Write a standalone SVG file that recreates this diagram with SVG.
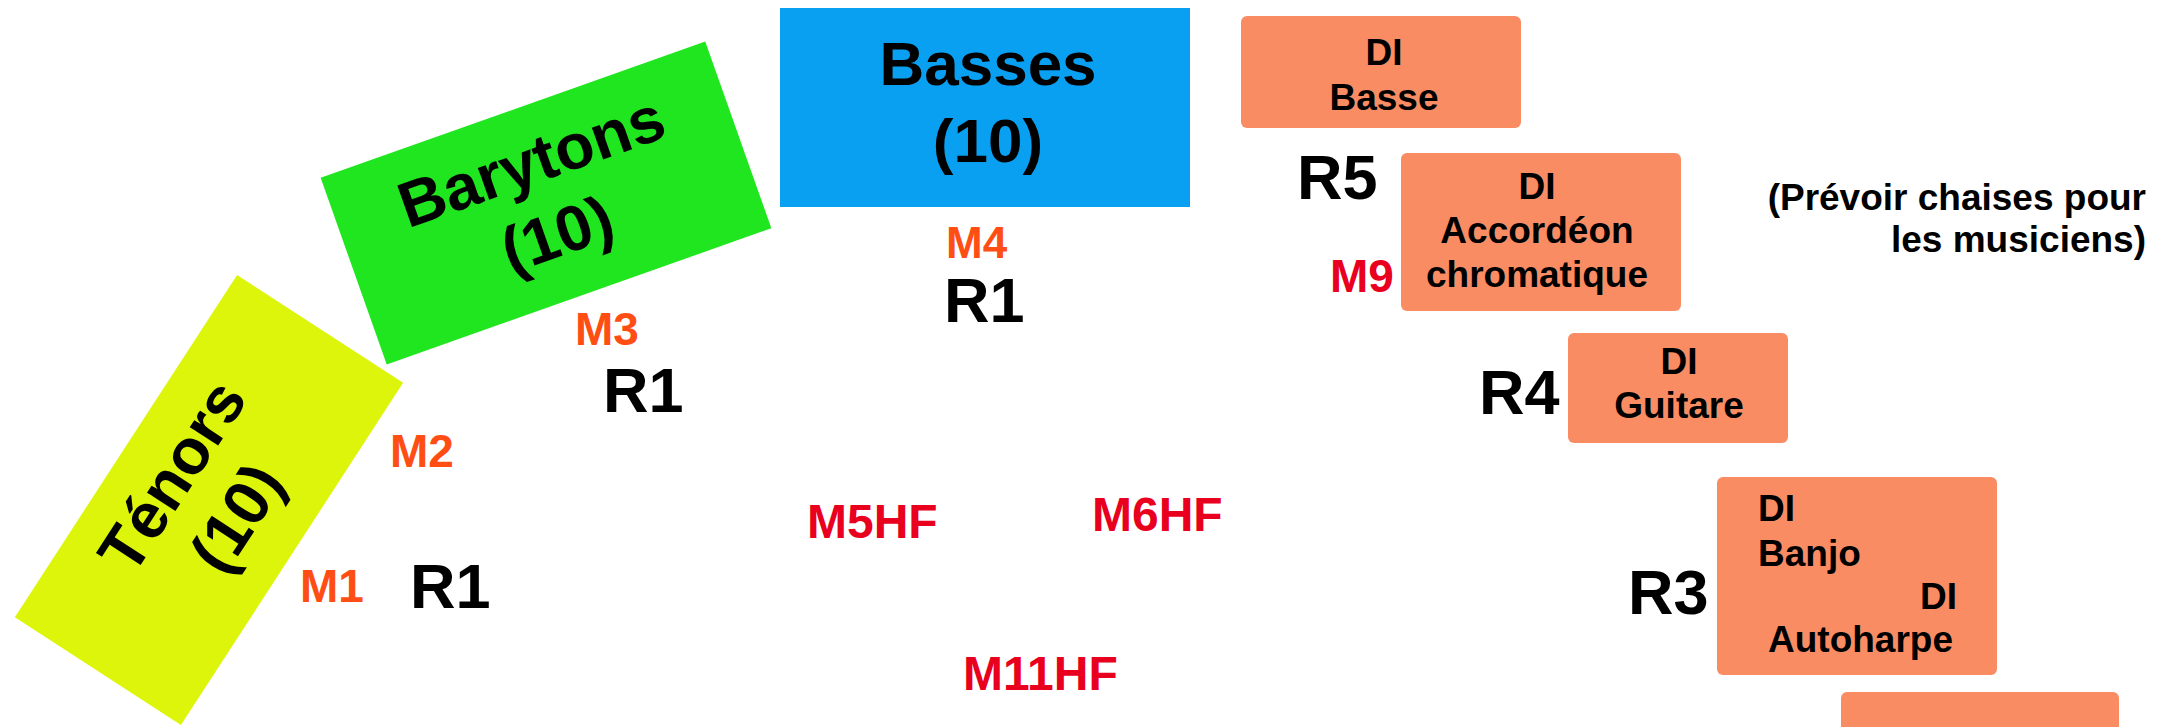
<svg xmlns="http://www.w3.org/2000/svg" width="2157" height="727" viewBox="0 0 2157 727">
<style>
text{font-family:"Liberation Sans",Arial,sans-serif;font-weight:bold}
.big{font-size:64px;fill:#000;text-anchor:middle}
.r{font-size:63px;fill:#000}
.mo{font-size:46px;fill:#FF4E14}
.mr{font-size:48px;fill:#E8001E}
.box{fill:#FA8C64}
.bt{font-size:37px;fill:#000}
.c{text-anchor:middle}
</style>
<rect width="2157" height="727" fill="#fff"/>
<g id="tenors" transform="translate(209,500) rotate(-57)">
<rect x="-204" y="-99" width="408" height="198" fill="#DCF50A"/>
<text class="big" x="0" y="-22">Ténors</text>
<text class="big" x="0" y="55">(10)</text>
</g>
<g id="barytons" transform="translate(546,203) rotate(-19.5)">
<rect x="-204" y="-99" width="408" height="198" fill="#20E620"/>
<text class="big" x="0" y="-22">Barytons</text>
<text class="big" x="0" y="55">(10)</text>
</g>
<g id="basses">
<rect x="780" y="8" width="410" height="199" fill="#0AA0F2"/>
<text class="big" x="988" y="85" style="font-size:62px">Basses</text>
<text class="big" x="988" y="162" style="font-size:62px">(10)</text>
</g>
<g id="di-basse">
<rect class="box" x="1241" y="16" width="280" height="112" rx="6"/>
<text class="bt c" x="1384" y="65">DI</text>
<text class="bt c" x="1384" y="110">Basse</text>
</g>
<g id="di-accordeon">
<rect class="box" x="1401" y="153" width="280" height="158" rx="6"/>
<text class="bt c" x="1537" y="199">DI</text>
<text class="bt c" x="1537" y="243">Accordéon</text>
<text class="bt c" x="1537" y="287">chromatique</text>
</g>
<g id="di-guitare">
<rect class="box" x="1568" y="333" width="220" height="110" rx="6"/>
<text class="bt c" x="1679" y="374">DI</text>
<text class="bt c" x="1679" y="418">Guitare</text>
</g>
<g id="di-banjo-autoharpe">
<rect class="box" x="1717" y="477" width="280" height="198" rx="6"/>
<text class="bt" x="1758" y="521">DI</text>
<text class="bt" x="1758" y="566">Banjo</text>
<text class="bt" x="1920" y="609">DI</text>
<text class="bt" x="1768" y="652">Autoharpe</text>
</g>
<g id="box-bottom">
<rect class="box" x="1841" y="692" width="278" height="60" rx="6"/>
</g>
<g id="labels">
<text class="mo" x="300" y="602">M1</text>
<text class="r" x="410" y="608">R1</text>
<text class="mo" x="390" y="467">M2</text>
<text class="mo" x="575" y="345">M3</text>
<text class="r" x="603" y="412">R1</text>
<text class="mo" x="946" y="258" style="font-size:44px">M4</text>
<text class="r" x="944" y="322">R1</text>
<text class="r" x="1297" y="199">R5</text>
<text class="mr" x="1330" y="292" style="font-size:46px">M9</text>
<text class="r" x="1479" y="414">R4</text>
<text class="r" x="1628" y="614">R3</text>
<text class="mr" x="807" y="538">M5HF</text>
<text class="mr" x="1092" y="531">M6HF</text>
<text class="mr" x="963" y="690">M11HF</text>
<text class="bt" x="2146" y="210" text-anchor="end">(Prévoir chaises pour</text>
<text class="bt" x="2146" y="252" text-anchor="end">les musiciens)</text>
</g>
<g id="connectors"></g>
</svg>
